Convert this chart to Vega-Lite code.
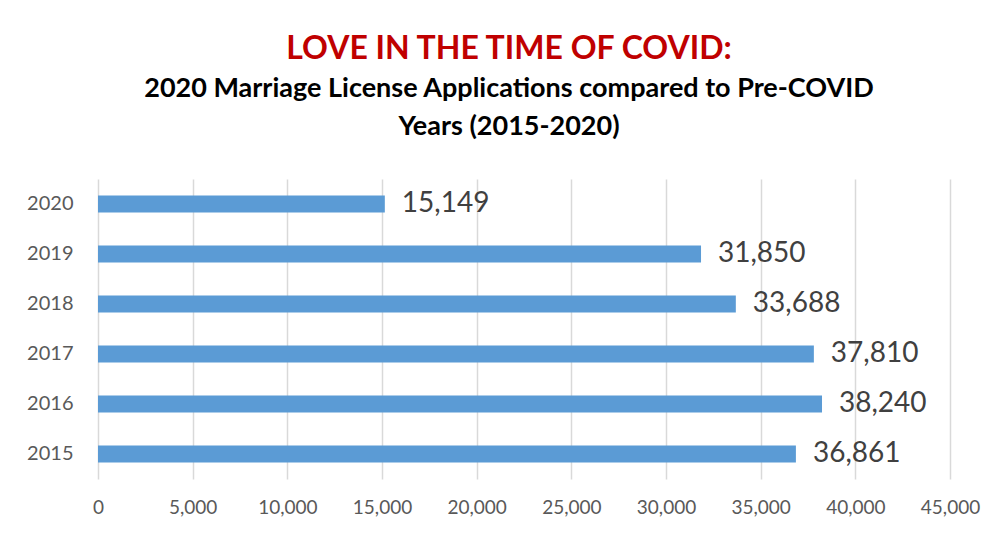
{
  "$schema": "https://vega.github.io/schema/vega-lite/v6.json",
  "autosize": {"type": "none"},
  "width": 852,
  "height": 300,
  "padding": {"left": 98, "top": 179, "right": 51, "bottom": 56},
  "background": "white",
  "title": {
    "text": "LOVE IN THE TIME OF COVID:",
    "subtitle": ["2020 Marriage License Applications compared to Pre-COVID", "Years (2015-2020)"],
    "anchor": "middle",
    "frame": "group",
    "dx": -15,
    "offset": 38,
    "font": "Lato",
    "fontSize": 32,
    "fontWeight": "bold",
    "color": "#C00000",
    "subtitleFont": "Lato",
    "subtitleFontSize": 27,
    "subtitleFontWeight": "bold",
    "subtitleColor": "#000000",
    "subtitleLineHeight": 38,
    "subtitlePadding": 10
  },
  "data": {
    "values": [
      {"year": "2020", "applications": 15149},
      {"year": "2019", "applications": 31850},
      {"year": "2018", "applications": 33688},
      {"year": "2017", "applications": 37810},
      {"year": "2016", "applications": 38240},
      {"year": "2015", "applications": 36861}
    ]
  },
  "encoding": {
    "y": {
      "field": "year",
      "type": "ordinal",
      "sort": ["2020", "2019", "2018", "2017", "2016", "2015"],
      "scale": {"paddingInner": 0.66, "paddingOuter": 0.33},
      "axis": {
        "title": null,
        "domain": false,
        "ticks": false,
        "grid": false,
        "labelPadding": 25,
        "labelFont": "Lato",
        "labelFontSize": 20,
        "labelColor": "#595959"
      }
    },
    "x": {
      "field": "applications",
      "type": "quantitative",
      "scale": {"domain": [0, 45000], "nice": false},
      "axis": {
        "title": null,
        "values": [0, 5000, 10000, 15000, 20000, 25000, 30000, 35000, 40000, 45000],
        "format": ",.0f",
        "domain": false,
        "ticks": false,
        "grid": true,
        "gridColor": "#D9D9D9",
        "gridWidth": 1.5,
        "labelPadding": 19,
        "labelFont": "Lato",
        "labelFontSize": 19,
        "labelColor": "#595959",
        "labelFlush": false
      }
    }
  },
  "layer": [
    {"mark": {"type": "bar", "color": "#5B9BD5"}},
    {
      "mark": {"type": "text", "align": "left", "baseline": "middle", "dx": 17, "font": "Lato", "fontSize": 28, "color": "#404040"},
      "encoding": {"text": {"field": "applications", "type": "quantitative", "format": ","}}
    }
  ],
  "config": {"view": {"stroke": null}}
}
